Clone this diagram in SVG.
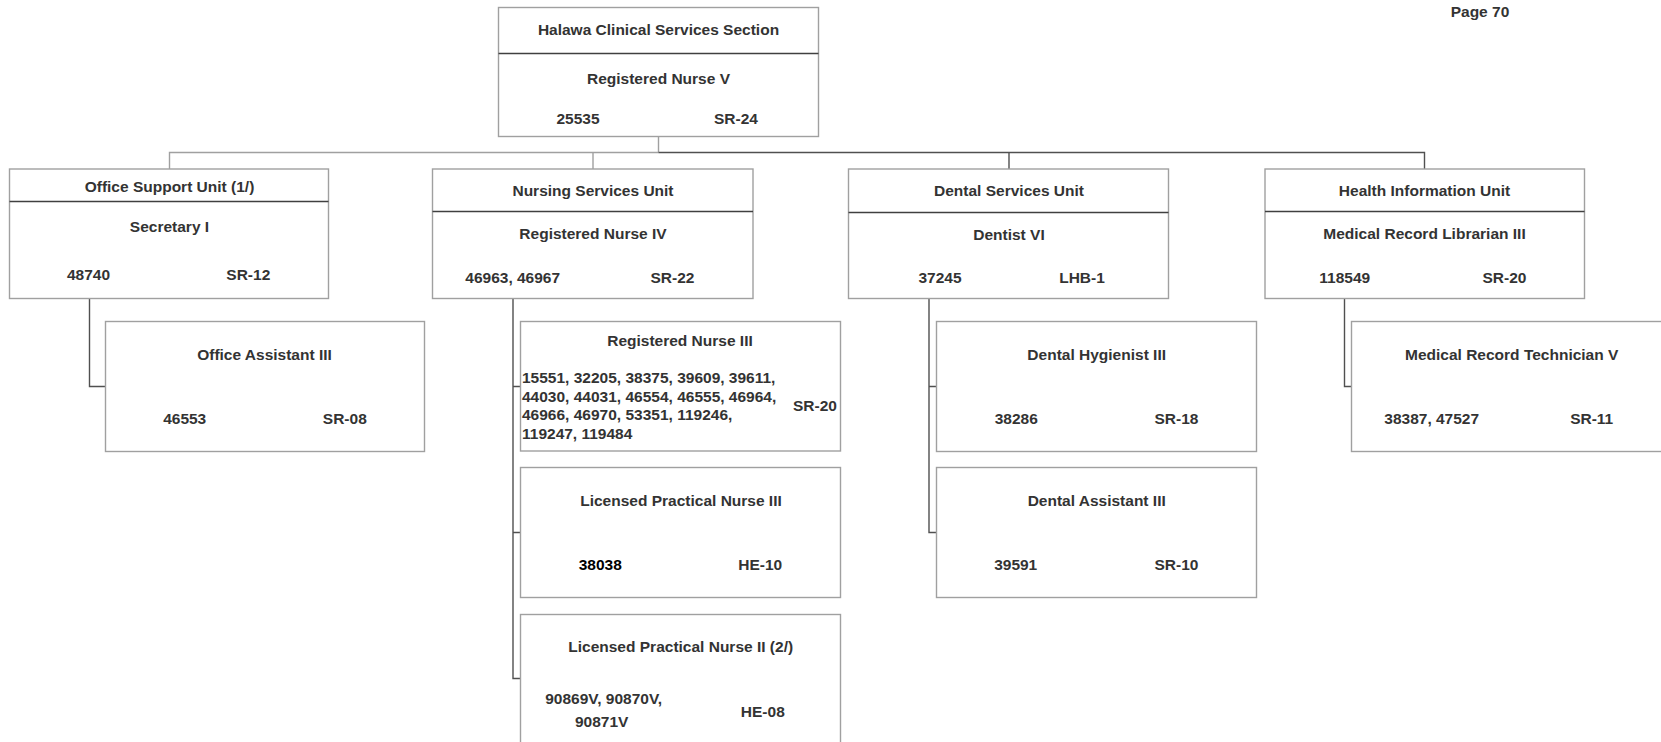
<svg xmlns="http://www.w3.org/2000/svg" width="1661" height="742" viewBox="0 0 1661 742">
<style>
.box{fill:#fff;stroke:#a0a0a0;stroke-width:1.4}
.div{stroke:#404040;stroke-width:1.3}
text{font-family:"Liberation Sans",Arial,sans-serif;font-weight:bold;font-size:15.5px;fill:#333;text-anchor:middle}
.l{text-anchor:start}
.k{fill:#000}
.cg{fill:none;stroke:#a0a0a0;stroke-width:1.4}
.cd{fill:none;stroke:#505050;stroke-width:1.4}
</style>
<rect width="1661" height="742" fill="#fff"/>
<text x="1480" y="16.7">Page 70</text>
<g id="connectors">
<path class="cg" d="M658.5 136.5V152.5M169.5 169V152.5H658.5M593 152.5V169"/>
<path class="cd" d="M658.5 152.5H1424.5V169M1009 152.5V169"/>
<path class="cd" d="M89.5 298.5V386.5H105.5"/>
<path class="cd" d="M513 298.5V678.5H520.5M513 386.5H520.5M513 532.5H520.5"/>
<path class="cd" d="M929 298.5V532.5H936.5M929 386.5H936.5"/>
<path class="cd" d="M1344.5 298.5V386.5H1351.5"/>
</g>
<g id="section">
<rect class="box" x="498.5" y="7.5" width="320" height="129"/>
<line class="div" x1="498.5" y1="53.5" x2="818.5" y2="53.5"/>
<text x="658.5" y="35">Halawa Clinical Services Section</text>
<text x="658.5" y="84">Registered Nurse V</text>
<text x="578" y="124">25535</text>
<text x="736" y="124">SR-24</text>
</g>
<g id="office-unit">
<rect class="box" x="9.5" y="169" width="319" height="129.5"/>
<line class="div" x1="9.5" y1="201.5" x2="328.5" y2="201.5"/>
<text x="169.5" y="191.7">Office Support Unit (1/)</text>
<text x="169.5" y="232.3">Secretary I</text>
<text x="88.5" y="280">48740</text>
<text x="248.3" y="280">SR-12</text>
</g>
<g id="nursing-unit">
<rect class="box" x="432.5" y="169" width="320.5" height="129.5"/>
<line class="div" x1="432.5" y1="211.5" x2="753" y2="211.5"/>
<text x="593" y="196">Nursing Services Unit</text>
<text x="593" y="239">Registered Nurse IV</text>
<text x="512.7" y="282.7">46963, 46967</text>
<text x="672.5" y="282.7">SR-22</text>
</g>
<g id="dental-unit">
<rect class="box" x="848.5" y="169" width="320" height="129.5"/>
<line class="div" x1="848.5" y1="212.5" x2="1168.5" y2="212.5"/>
<text x="1009" y="196">Dental Services Unit</text>
<text x="1009" y="240">Dentist VI</text>
<text x="940" y="283.3">37245</text>
<text x="1082" y="283.3">LHB-1</text>
</g>
<g id="health-unit">
<rect class="box" x="1265" y="169" width="319.5" height="129.5"/>
<line class="div" x1="1265" y1="211.5" x2="1584.5" y2="211.5"/>
<text x="1424.5" y="196">Health Information Unit</text>
<text x="1424.5" y="239">Medical Record Librarian III</text>
<text x="1344.7" y="282.7">118549</text>
<text x="1504.5" y="282.7">SR-20</text>
</g>
<g id="office-assistant">
<rect class="box" x="105.5" y="321.5" width="319" height="130"/>
<text x="264.5" y="360">Office Assistant III</text>
<text x="184.7" y="424">46553</text>
<text x="344.8" y="424">SR-08</text>
</g>
<g id="rn3">
<rect class="box" x="520.5" y="321.5" width="320" height="129.5"/>
<text x="680" y="345.7">Registered Nurse III</text>
<text class="l" x="522" y="383.3">15551, 32205, 38375, 39609, 39611,</text>
<text class="l" x="522" y="401.7">44030, 44031, 46554, 46555, 46964,</text>
<text class="l" x="522" y="420">46966, 46970, 53351, 119246,</text>
<text class="l" x="522" y="439.3">119247, 119484</text>
<text x="815" y="410.7">SR-20</text>
</g>
<g id="lpn3">
<rect class="box" x="520.5" y="467.5" width="320" height="130"/>
<text x="681" y="505.7">Licensed Practical Nurse III</text>
<text class="k" x="600.3" y="569.7">38038</text>
<text x="760.2" y="569.7">HE-10</text>
</g>
<g id="lpn2">
<rect class="box" x="520.5" y="614.5" width="320" height="130"/>
<text x="680.7" y="652.3">Licensed Practical Nurse II (2/)</text>
<text x="603.7" y="704.3">90869V, 90870V,</text>
<text x="601.7" y="726.7">90871V</text>
<text x="762.8" y="716.7">HE-08</text>
</g>
<g id="dental-hygienist">
<rect class="box" x="936.5" y="321.5" width="320" height="130"/>
<text x="1096.7" y="360">Dental Hygienist III</text>
<text x="1016.3" y="424">38286</text>
<text x="1176.5" y="424">SR-18</text>
</g>
<g id="dental-assistant">
<rect class="box" x="936.5" y="467.5" width="320" height="130"/>
<text x="1096.7" y="505.7">Dental Assistant III</text>
<text x="1015.7" y="569.7">39591</text>
<text x="1176.5" y="569.7">SR-10</text>
</g>
<g id="med-record-tech">
<rect class="box" x="1351.5" y="321.5" width="320" height="130"/>
<text x="1511.7" y="360">Medical Record Technician V</text>
<text x="1431.7" y="424">38387, 47527</text>
<text x="1591.7" y="424">SR-11</text>
</g>
</svg>
